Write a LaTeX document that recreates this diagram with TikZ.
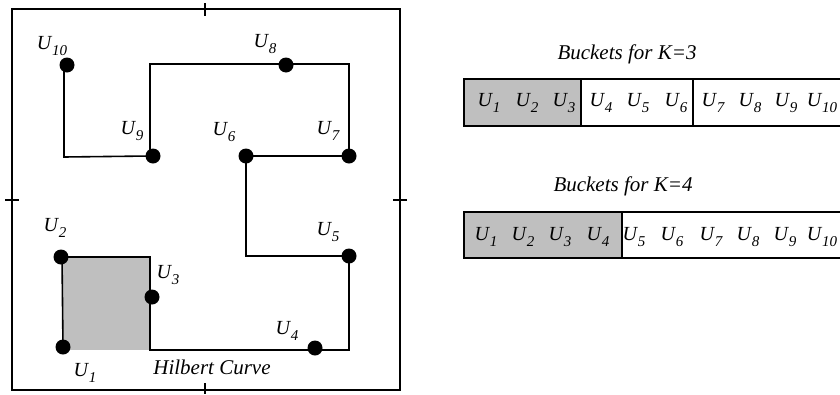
\documentclass[tikz,border=0pt]{standalone}
\usepackage{fontspec}
\setmainfont{Liberation Serif}
\newcommand{\Usub}[1]{{\itshape U\kern0.03em\raisebox{-6pt}{\fontsize{15}{15}\selectfont\itshape #1}}}
\begin{document}
\begin{tikzpicture}[x=1pt,y=-1pt,
  frame/.style={line width=1.6pt},
  curve/.style={line width=1.6pt},
  dot/.style={circle,fill=black,inner sep=0pt,minimum size=15pt},
  lab/.style={inner sep=0pt,font=\fontsize{20}{20}\selectfont},
  blab/.style={inner sep=0pt,font=\fontsize{20}{20}\selectfont},
  ttl/.style={inner sep=0pt,font=\fontsize{21}{21}\selectfont\itshape},
  cell/.style={line width=1.6pt},
  gcell/.style={fill=black!25,line width=1.6pt}]
\useasboundingbox (0,0) rectangle (840,394);
\clip (0,0) rectangle (840,394);
% frame
\draw[frame] (12,9) rectangle (400,390);
\draw[frame] (205,3) -- (205,16);
\draw[frame] (205,383) -- (205,394);
\draw[frame] (5,200) -- (19,200);
\draw[frame] (393,200) -- (407,200);
% gray square
\fill[black!25] (62,257) rectangle (150,350);
% coordinates
\coordinate (ca) at (150,257);
\coordinate (cb) at (150,350);
\coordinate (cc) at (349,350);
\coordinate (cd) at (246,256);
\coordinate (ce) at (349,64);
\coordinate (cf) at (150,64);
\coordinate (cg) at (64,157);
\node[dot] (u1) at (63,347) {};
\node[dot] (u2) at (61,257) {};
\node[dot] (u3) at (152,297) {};
\node[dot] (u4) at (315,348) {};
\node[dot] (u5) at (349,256) {};
\node[dot] (u6) at (246,156) {};
\node[dot] (u7) at (349,156) {};
\node[dot] (u8) at (286,65) {};
\node[dot] (u9) at (153,156) {};
\node[dot] (u10) at (67,65) {};
\draw[curve,line join=miter] (u1.center) -- (62,257) -- (ca) -- (cb) -- (cc) -- (u5.center) -- (cd) -- (u6.center) -- (u7.center) -- (ce) -- (cf) -- (150,156) -- (cg) -- (64,65) -- (u10.center);
% labels
\node[lab] (l10) at (52,46) {\Usub{10}};
\node[lab] (l8) at (265,44) {\Usub{8}};
\node[lab] (l9) at (132,131) {\Usub{9}};
\node[lab] (l6) at (224,132) {\Usub{6}};
\node[lab] (l7) at (328,131) {\Usub{7}};
\node[lab] (l2) at (55,228) {\Usub{2}};
\node[lab] (l5) at (328,232) {\Usub{5}};
\node[lab] (l3) at (168,275) {\Usub{3}};
\node[lab] (l4) at (287,331) {\Usub{4}};
\node[lab] (l1) at (85,373) {\Usub{1}};
\node[ttl] (hc) at (212,367) {Hilbert Curve};
% bucket row 1
\node[ttl] (t1) at (627,54) {Buckets for K=3};
\draw[gcell] (464,79) rectangle (581,126);
\draw[cell] (581,79) rectangle (693,126);
\draw[cell] (693,79) rectangle (860,126);
\foreach \n/\x in {1/489,2/527,3/564,4/601,5/638,6/676,7/713,8/750,9/786}
  \node[blab] (ra\n) at (\x,103) {\Usub{\n}};
\node[blab] (ra10) at (822,103) {\Usub{10}};
% bucket row 2
\node[ttl] (t2) at (623,186) {Buckets for K=4};
\draw[gcell] (464,212) rectangle (622,258);
\draw[cell] (622,212) rectangle (860,258);
\foreach \n/\x in {1/486,2/523,3/560,4/598,5/634,6/672,7/711,8/748,9/785}
  \node[blab] (rb\n) at (\x,237) {\Usub{\n}};
\node[blab] (rb10) at (822,237) {\Usub{10}};
\end{tikzpicture}
\end{document}
